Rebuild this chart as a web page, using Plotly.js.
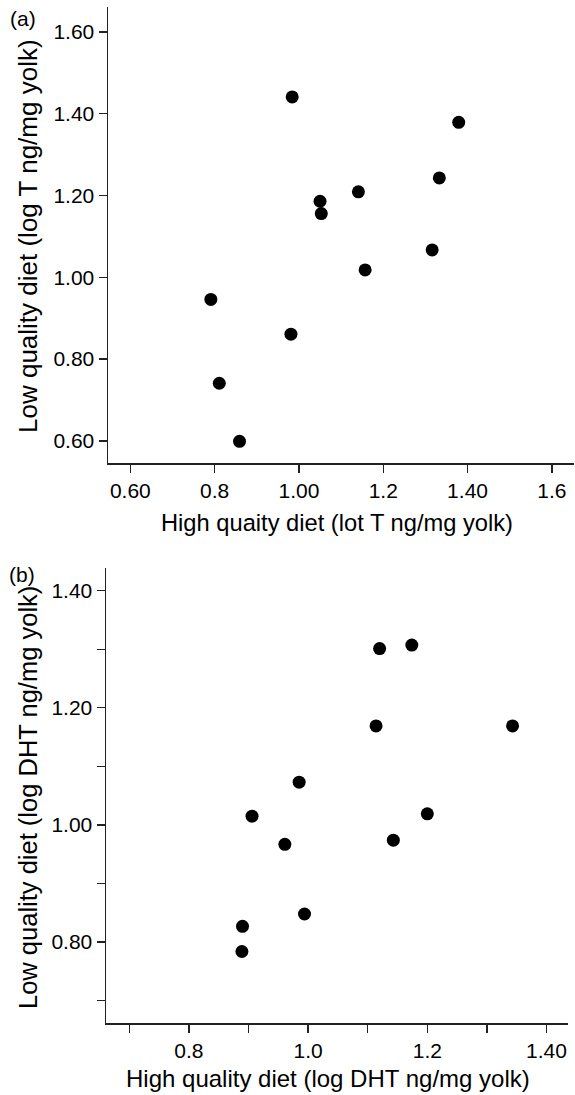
<!DOCTYPE html>
<html>
<head>
<meta charset="utf-8">
<script src="https://cdn.plot.ly/plotly-3.0.1.min.js"></script>
<style>
html,body{margin:0;padding:0;background:#fff;}
#chart{width:575px;height:1095px;}
</style>
</head>
<body>
<div id="chart"></div>
<script>
// Panel (a): log T
const highT = [0.984, 1.379, 1.333, 1.141, 1.050, 1.053, 1.316, 1.157, 0.791, 0.981, 0.811, 0.859];
const lowT  = [1.441, 1.379, 1.243, 1.209, 1.186, 1.156, 1.067, 1.018, 0.946, 0.861, 0.741, 0.599];
// Panel (b): log DHT
const highDHT = [1.120, 1.174, 1.114, 1.343, 0.985, 1.200, 0.906, 0.961, 1.143, 0.994, 0.890, 0.889];
const lowDHT  = [1.301, 1.307, 1.169, 1.169, 1.073, 1.019, 1.015, 0.967, 0.974, 0.848, 0.827, 0.784];

const aXTickVals = [0.6, 0.8, 1.0, 1.2, 1.4, 1.6];
const aXTickText = ["0.60", "0.8", "1.00", "1.2", "1.40", "1.6"];
const aYTickVals = [0.6, 0.8, 1.0, 1.2, 1.4, 1.6];
const aYTickText = ["0.60", "0.80", "1.00", "1.20", "1.40", "1.60"];
const bXTickVals = [0.7, 0.8, 0.9, 1.0, 1.1, 1.2, 1.3, 1.4];
const bXTickText = ["", "0.8", "", "1.0", "", "1.2", "", "1.40"];
const bYTickVals = [0.7, 0.8, 0.9, 1.0, 1.1, 1.2, 1.3, 1.4];
const bYTickText = ["", "0.80", "", "1.00", "", "1.20", "", "1.40"];

const W = 575, H = 1095;
const FONT = "Liberation Sans, Arial, sans-serif";
const px = v => v / W;
const py = v => (H - v) / H;

const marker = {color: "#000", size: 13, line: {width: 0}};

const traces = [
  {x: highT, y: lowT, type: "scatter", mode: "markers", marker: marker, xaxis: "x", yaxis: "y", hoverinfo: "x+y"},
  {x: highDHT, y: lowDHT, type: "scatter", mode: "markers", marker: marker, xaxis: "x2", yaxis: "y2", hoverinfo: "x+y"}
];

const axBase = {
  showline: true, linecolor: "#222", linewidth: 1.5,
  ticks: "outside", ticklen: 8, tickwidth: 1.3, tickcolor: "#222",
  showgrid: false, zeroline: false, mirror: false,
  tickfont: {family: FONT, size: 21, color: "#000"},
  tickmode: "array", fixedrange: true
};

const layout = {
  width: W, height: H,
  margin: {l: 0, r: 0, t: 0, b: 0, pad: 0},
  paper_bgcolor: "#fff", plot_bgcolor: "#fff",
  showlegend: false,
  font: {family: FONT, size: 21, color: "#000"},
  xaxis: Object.assign({}, axBase, {
    domain: [px(108), px(574)], range: [0.547, 1.6525],
    tickvals: aXTickVals, ticktext: aXTickText, anchor: "y"
  }),
  yaxis: Object.assign({}, axBase, {
    domain: [py(463), py(7)], range: [0.546, 1.661],
    tickvals: aYTickVals, ticktext: aYTickText, anchor: "x"
  }),
  xaxis2: Object.assign({}, axBase, {
    domain: [px(106), px(568)], range: [0.661, 1.436],
    tickvals: bXTickVals, ticktext: bXTickText, anchor: "y2"
  }),
  yaxis2: Object.assign({}, axBase, {
    domain: [py(1023), py(567.7)], range: [0.662, 1.439],
    tickvals: bYTickVals, ticktext: bYTickText, anchor: "x2"
  }),
  annotations: [
    {text: "(a)", xref: "paper", yref: "paper", x: px(23), y: py(19), xanchor: "center", yanchor: "middle", showarrow: false, font: {family: FONT, size: 21}},
    {text: "(b)", xref: "paper", yref: "paper", x: px(22), y: py(574), xanchor: "center", yanchor: "middle", showarrow: false, font: {family: FONT, size: 21}},
    {text: "High quaity diet (lot T ng/mg yolk)", xref: "paper", yref: "paper", x: px(337), y: py(523), xanchor: "center", yanchor: "middle", showarrow: false, font: {family: FONT, size: 23.7}},
    {text: "Low quality diet (log T ng/mg yolk)", xref: "paper", yref: "paper", x: px(28), y: py(236), xanchor: "center", yanchor: "middle", textangle: -90, showarrow: false, font: {family: FONT, size: 26}},
    {text: "High quality diet (log DHT ng/mg yolk)", xref: "paper", yref: "paper", x: px(328), y: py(1078), xanchor: "center", yanchor: "middle", showarrow: false, font: {family: FONT, size: 24}},
    {text: "Low quality diet (log DHT ng/mg yolk)", xref: "paper", yref: "paper", x: px(28), y: py(798), xanchor: "center", yanchor: "middle", textangle: -90, showarrow: false, font: {family: FONT, size: 25.5}}
  ]
};

Plotly.newPlot("chart", traces, layout, {displayModeBar: false, staticPlot: true});
</script>
</body>
</html>
